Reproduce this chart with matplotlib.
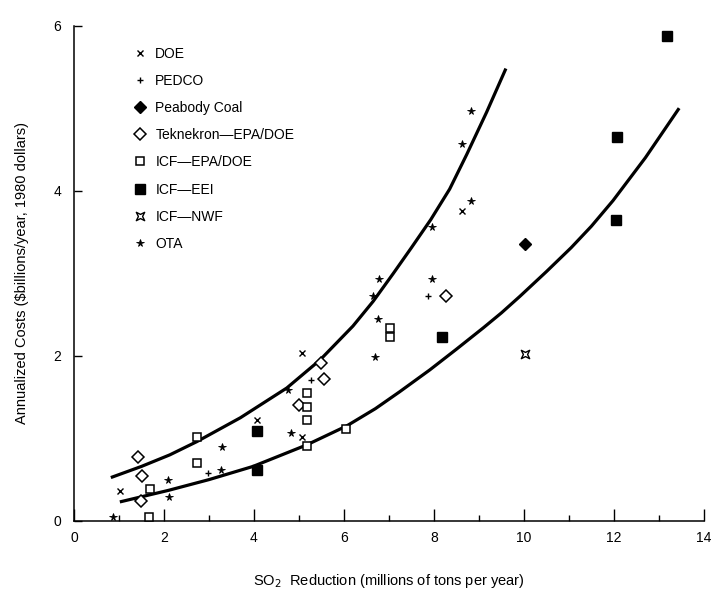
"""Annualized cost of SO2 reduction: study estimates with upper and lower envelope curves."""

import matplotlib

matplotlib.use("Agg")

import matplotlib.pyplot as plt
from matplotlib.lines import Line2D
from matplotlib.path import Path

plt.rcParams["font.family"] = ["Liberation Sans", "DejaVu Sans"]

# study estimates: SO2 reduction (Mt/yr) vs annualized cost ($bn/yr, 1980)
doe_x = [1.02, 4.07, 5.07, 5.07, 8.63]
doe_y = [0.36, 1.22, 2.04, 1.02, 3.75]
pedco_x = [2.98, 5.27, 7.87]
pedco_y = [0.58, 1.71, 2.73]
peabody_x = [10.02]
peabody_y = [3.36]
teknekron_x = [1.42, 1.51, 1.49, 5.00, 5.49, 5.56, 8.27]
teknekron_y = [0.78, 0.55, 0.24, 1.41, 1.91, 1.72, 2.72]
icf_epa_x = [1.67, 1.69, 2.73, 2.73, 5.18, 5.18, 5.18, 5.18, 6.04, 7.02, 7.02]
icf_epa_y = [0.05, 0.39, 1.02, 0.70, 1.55, 1.38, 1.22, 0.91, 1.11, 2.34, 2.23]
icf_eei_x = [4.07, 4.07, 8.18, 12.04, 12.06, 13.18]
icf_eei_y = [1.09, 0.62, 2.23, 3.64, 4.65, 5.87]
icf_nwf_x = [10.02]
icf_nwf_y = [2.02]
ota_x = [0.87, 2.09, 2.11, 3.27, 3.29, 4.76, 4.82, 6.65, 6.78, 6.76, 6.69, 7.95, 7.95, 8.63, 8.82, 8.82]
ota_y = [0.05, 0.50, 0.29, 0.62, 0.89, 1.59, 1.07, 2.73, 2.93, 2.45, 1.99, 3.56, 2.93, 4.57, 4.96, 3.87]

# envelope curves
upper_x = [0.82, 1.50, 2.13, 2.73, 3.70, 4.73, 5.47, 6.20, 6.65, 7.10, 7.50, 7.93, 8.35, 8.73, 9.17, 9.60]
upper_y = [0.525, 0.66, 0.80, 0.96, 1.25, 1.61, 1.95, 2.36, 2.66, 3.00, 3.31, 3.65, 4.02, 4.44, 4.95, 5.48]
lower_x = [1.02, 2.10, 3.00, 3.98, 5.17, 6.06, 6.70, 7.24, 7.91, 8.50, 9.10, 9.50, 9.91, 10.50, 11.05, 11.50, 11.98, 12.70, 13.45]
lower_y = [0.23, 0.37, 0.50, 0.66, 0.92, 1.15, 1.36, 1.565, 1.83, 2.08, 2.34, 2.52, 2.72, 3.02, 3.31, 3.57, 3.88, 4.40, 5.00]

x_ticks = [0, 2, 4, 6, 8, 10, 12, 14]
x_minor = [1, 3, 5, 7, 9, 11, 13]
y_ticks = [0, 2, 4, 6]

# pinched square for ICF-NWF
nwf_marker = Path(
    [(-1, -1), (0, -0.5), (1, -1), (0.5, 0), (1, 1), (0, 0.5), (-1, 1), (-0.5, 0), (-1, -1)],
    [Path.MOVETO] + [Path.LINETO] * 7 + [Path.CLOSEPOLY],
)

series = [
    ("DOE", doe_x, doe_y, dict(marker="x", ms=4, mew=1.0, mfc="black")),
    ("PEDCO", pedco_x, pedco_y, dict(marker="+", ms=5, mew=1.0, mfc="black")),
    ("Peabody Coal", peabody_x, peabody_y, dict(marker="D", ms=6, mew=1.0, mfc="black")),
    ("Teknekron\u2014EPA/DOE", teknekron_x, teknekron_y, dict(marker="D", ms=6, mew=1.1, mfc="white")),
    ("ICF\u2014EPA/DOE", icf_epa_x, icf_epa_y, dict(marker="s", ms=6, mew=1.1, mfc="white")),
    ("ICF\u2014EEI", icf_eei_x, icf_eei_y, dict(marker="s", ms=6.5, mew=1.0, mfc="black")),
    ("ICF\u2014NWF", icf_nwf_x, icf_nwf_y, dict(marker=nwf_marker, ms=6, mew=1.0, mfc="white")),
    ("OTA", ota_x, ota_y, dict(marker="*", ms=5.5, mew=0.6, mfc="black")),
]

fig = plt.figure(figsize=(7.11, 5.96), dpi=100)
ax = fig.add_axes([0.104, 0.126, 0.886, 0.831])

ax.plot(upper_x, upper_y, color="black", lw=2.3, solid_capstyle="butt", solid_joinstyle="round", zorder=2)
ax.plot(lower_x, lower_y, color="black", lw=2.3, solid_capstyle="butt", solid_joinstyle="round", zorder=2)

handles = []
for label, xs, ys, style in series:
    ax.plot(xs, ys, ls="none", color="black", mec="black", zorder=3, **style)
    handles.append(Line2D([], [], ls="none", color="black", mec="black", label=label, **style))

ax.set_xlim(0, 14)
ax.set_ylim(0, 6)
ax.set_xticks(x_ticks)
ax.set_xticks(x_minor, minor=True)
ax.set_yticks(y_ticks)
ax.tick_params(axis="x", which="major", direction="in", length=8.5, width=1.0, labelsize=10, pad=7)
ax.tick_params(axis="x", which="minor", direction="in", length=4.5, width=1.0)
ax.tick_params(axis="y", which="major", direction="in", length=6, width=1.0, labelsize=10, pad=9)
for side in ("top", "right"):
    ax.spines[side].set_visible(False)
for side in ("left", "bottom"):
    ax.spines[side].set_linewidth(1.1)

ax.set_xlabel("SO$_2$  Reduction (millions of tons per year)", fontsize=10.5, labelpad=20)
ax.set_ylabel("Annualized Costs (\\$billions/year, 1980 dollars)", fontsize=10.5, labelpad=18)

ax.legend(
    handles=handles,
    loc="upper left",
    bbox_to_anchor=(0.085, 0.969),
    frameon=False,
    fontsize=10,
    handlelength=1.0,
    handletextpad=0.6,
    labelspacing=0.95,
    borderaxespad=0,
)

fig.savefig("out.png", dpi=100, facecolor="white")
